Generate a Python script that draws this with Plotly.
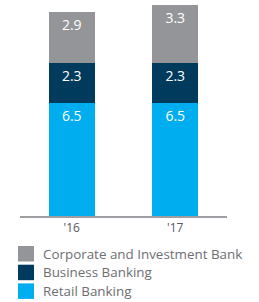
import plotly.graph_objects as go

years = ["'16", "'17"]
retail = [6.5, 6.5]
business = [2.3, 2.3]
corporate = [2.9, 3.3]

series = [
    ("Retail Banking", retail, "#00aeef"),
    ("Business Banking", business, "#003a5d"),
    ("Corporate and Investment Bank", corporate, "#939598"),
]

W, HT = 259, 302
L, R, T, B = 20, 32, 0, 86
PW, PH = W - L - R, HT - T - B


def px(x):
    return (x - L) / PW


def py(y):
    return (HT - B - y) / PH


fig = go.Figure()
for name, vals, col in series:
    fig.add_trace(go.Bar(
        x=years, y=vals, name=name, marker=dict(color=col, line=dict(width=0)),
        text=[f"{v:.1f}" for v in vals], textposition="inside",
        insidetextanchor="end", textangle=0,
        textfont=dict(color="white", size=14, family="Open Sans"),
        width=0.444, showlegend=False, hoverinfo="skip",
    ))

# manual legend (top to bottom: reversed stacking order)
shapes, annots = [], []
for i, (name, vals, col) in enumerate(reversed(series)):
    top = 246 + i * 18.7
    shapes.append(dict(type="rect", xref="paper", yref="paper",
                       x0=px(18), x1=px(34), y0=py(top + 15.5), y1=py(top),
                       fillcolor=col, line=dict(width=0)))
    annots.append(dict(text=name, xref="paper", yref="paper",
                       x=px(41), y=py(top + 7.5), xanchor="left", yanchor="middle",
                       showarrow=False,
                       font=dict(size=13.4, color="#6d6e71", family="Open Sans")))

fig.update_layout(
    width=W, height=HT,
    margin=dict(l=L, r=R, t=T, b=B),
    barmode="stack",
    plot_bgcolor="white", paper_bgcolor="white",
    showlegend=False,
    shapes=shapes, annotations=annots,
    uniformtext=dict(minsize=14, mode="show"),
)
fig.update_xaxes(
    showline=True, linecolor="#9d9fa2", linewidth=2, ticks="",
    tickfont=dict(size=12, color="#58595b", family="Open Sans"),
    range=[-0.5, 1.5], fixedrange=True,
)
fig.update_yaxes(range=[0, 12.4], visible=False, showgrid=False, fixedrange=True)

fig.write_html(
    "out.html",
    config={"displayModeBar": False},
    post_script="document.body.style.margin='0px';document.body.style.padding='0px';",
)
